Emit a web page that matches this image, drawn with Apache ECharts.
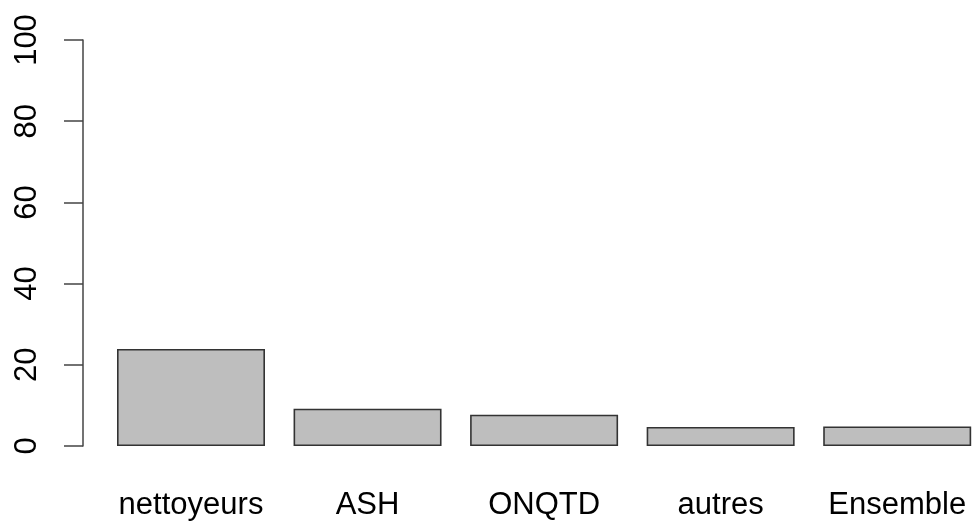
<!DOCTYPE html>
<html>
<head>
<meta charset="utf-8">
<script src="https://cdn.jsdelivr.net/npm/echarts@6/dist/echarts.min.js"></script>
<style>
html,body{margin:0;padding:0;background:#fff;}
#chart{width:973px;height:523px;}
</style>
</head>
<body>
<div id="chart"></div>
<script>
const categories = ["nettoyeurs", "ASH", "ONQTD", "autres", "Ensemble"];
const values = [23.9, 9.2, 7.7, 4.7, 4.8];
const yTicks = [0, 20, 40, 60, 80, 100];

const chart = echarts.init(document.getElementById('chart'), null, {renderer: 'canvas'});
const FONT = "'Liberation Sans', Arial, Helvetica, sans-serif";
const gridLeft = 191;
const slot = 176.55;
const xMax = (973 - gridLeft) / slot;
chart.setOption({
  animation: false,
  backgroundColor: '#ffffff',
  grid: {left: gridLeft, top: 40, right: 0, bottom: 77, containLabel: false},
  xAxis: {
    type: 'value',
    min: 0,
    max: xMax,
    interval: 1,
    axisLine: {show: false, onZero: false},
    axisTick: {show: false},
    splitLine: {show: false},
    axisLabel: {
      color: '#000', fontSize: 31, fontFamily: FONT, margin: 44,
      showMinLabel: true, showMaxLabel: false,
      formatter: function (v) {
        const i = Math.round(v);
        return (Math.abs(v - i) < 1e-6 && categories[i] !== undefined) ? categories[i] : '';
      }
    }
  },
  yAxis: {
    type: 'value',
    min: yTicks[0],
    max: yTicks[yTicks.length - 1],
    interval: 20,
    offset: gridLeft - 83,
    axisLine: {show: true, onZero: false, lineStyle: {color: '#444', width: 1.5}},
    axisTick: {show: true, length: 19, lineStyle: {color: '#444', width: 1.5}},
    splitLine: {show: false},
    axisLabel: {
      color: '#000', fontSize: 31, fontFamily: FONT, rotate: 90, margin: 40
    }
  },
  series: [{
    type: 'bar',
    data: values.map(function (v, i) { return [i, v]; }),
    barWidth: 148,
    clip: false,
    itemStyle: {color: '#bebebe', borderColor: '#333', borderWidth: 1.6}
  }]
});
</script>
</body>
</html>
